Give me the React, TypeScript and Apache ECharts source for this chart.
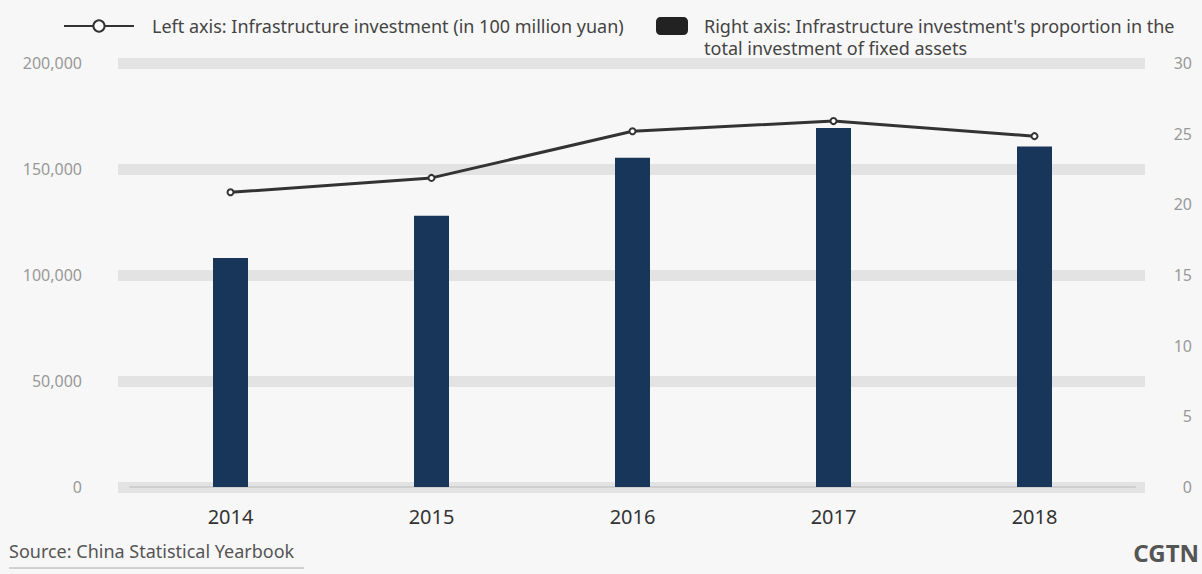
import React, { useEffect, useRef } from "react";
import * as echarts from "echarts";

const years = ["2014", "2015", "2016", "2017", "2018"];
const investment = [139000, 145800, 167800, 172600, 165500];
const proportion = [16.2, 19.2, 23.3, 25.4, 24.1];
const leftMax = 200000;
const leftInterval = 50000;
const rightMax = 30;
const rightInterval = 5;
const lineName = "Left axis: Infrastructure investment (in 100 million yuan)";
const barName = "Right axis: Infrastructure investment's proportion in the";
const barName2 = "total investment of fixed assets";
const sourceText = "Source: China Statistical Yearbook";
const brandText = "CGTN";

const FONT = "'Noto Sans', 'DejaVu Sans', sans-serif";

export default function App() {
  const ref = useRef<HTMLDivElement>(null);
  useEffect(() => {
    document.body.style.margin = "0";
    const chart = echarts.init(ref.current!, null, { renderer: "svg" });
    chart.setOption({
      animation: false,
      backgroundColor: "#f7f7f7",
      textStyle: { fontFamily: FONT },
      legend: [
        {
          data: [{ name: lineName }],
          left: 58,
          top: 12,
          itemWidth: 70,
          itemHeight: 14,
          selectedMode: false,
          textStyle: { fontSize: 18, color: "#444", fontFamily: FONT, padding: [0, 0, 0, 13] },
        },
        {
          data: [{ name: barName, itemStyle: { color: "#222" } }],
          left: 651,
          top: 12,
          itemWidth: 32,
          itemHeight: 18,
          selectedMode: false,
          textStyle: { fontSize: 18, color: "#444", fontFamily: FONT, padding: [0, 0, 0, 11] },
        },
      ],
      grid: [
        { left: 130, right: 67, top: 63, bottom: 87 },
        { left: 118, right: 57, top: 63, bottom: 87 },
      ],
      xAxis: [
        {
          type: "category",
          data: years,
          gridIndex: 0,
          axisTick: { show: false },
          axisLine: { show: true, lineStyle: { color: "#cfcfcf", width: 2 } },
          axisLabel: { fontSize: 20, color: "#333", margin: 19, fontFamily: FONT },
        },
        { type: "value", gridIndex: 1, show: false, min: 0, max: 1 },
      ],
      yAxis: [
        {
          type: "value",
          gridIndex: 0,
          min: 0,
          max: leftMax,
          interval: leftInterval,
          splitLine: { show: false },
          axisLine: { show: false },
          axisTick: { show: false },
          axisLabel: {
            fontSize: 16,
            color: "#999",
            margin: 48,
            fontFamily: FONT,
            formatter: (v: number) => v.toLocaleString("en-US"),
          },
        },
        {
          type: "value",
          gridIndex: 0,
          position: "right",
          min: 0,
          max: rightMax,
          interval: rightInterval,
          splitLine: { show: false },
          axisLine: { show: false },
          axisTick: { show: false },
          axisLabel: { fontSize: 16, color: "#999", margin: 57, align: "right", fontFamily: FONT },
        },
        {
          type: "value",
          gridIndex: 1,
          min: 0,
          max: leftMax,
          interval: leftInterval,
          axisLine: { show: false },
          axisTick: { show: false },
          axisLabel: { show: false },
          splitLine: { show: true, lineStyle: { color: "#e3e3e3", width: 11 } },
        },
      ],
      series: [
        {
          name: barName,
          type: "bar",
          xAxisIndex: 0,
          yAxisIndex: 1,
          data: proportion,
          barWidth: 35,
          itemStyle: { color: "#18365a" },
          z: 2,
        },
        {
          name: lineName,
          type: "line",
          xAxisIndex: 0,
          yAxisIndex: 0,
          data: investment,
          symbol: "emptyCircle",
          symbolSize: 6,
          lineStyle: { color: "#333", width: 3 },
          itemStyle: { color: "#333", borderColor: "#ddd" },
          z: 4,
        },
      ],
      graphic: [
        {
          type: "text",
          left: 704,
          top: 39,
          style: { text: barName2, fontSize: 18, fill: "#444", fontFamily: FONT },
        },
        {
          type: "text",
          left: 9,
          top: 542,
          style: { text: sourceText, fontSize: 18, fill: "#555", fontFamily: FONT },
        },
        {
          type: "line",
          shape: { x1: 9, y1: 568, x2: 304, y2: 568 },
          style: { stroke: "#aaa", lineWidth: 1 },
        },
        {
          type: "text",
          right: 3,
          top: 540,
          style: { text: brandText, fontSize: 24, fill: "#555", fontWeight: "bold", fontFamily: FONT },
        },
      ],
    });
    return () => chart.dispose();
  }, []);
  return <div ref={ref} style={{ width: 1202, height: 574 }} />;
}
